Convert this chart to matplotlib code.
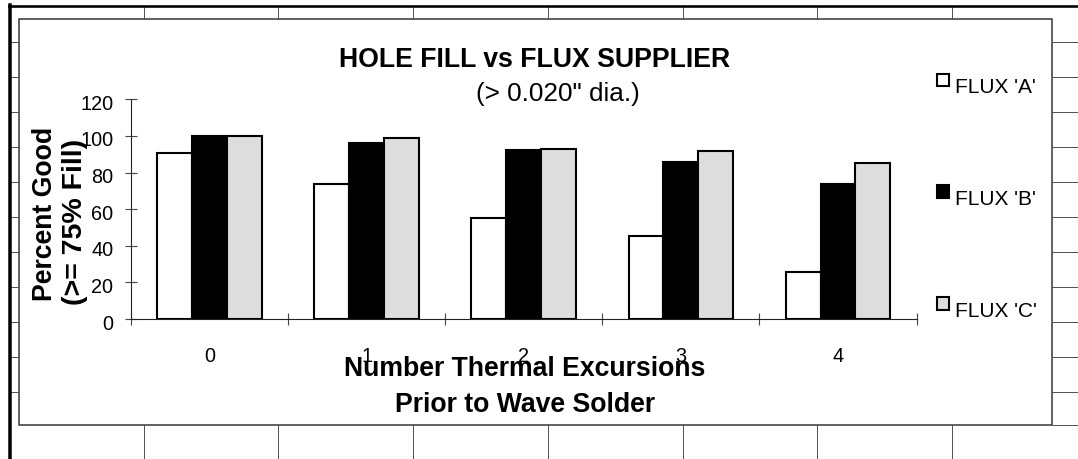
import matplotlib
matplotlib.use('Agg')
import matplotlib.pyplot as plt
import numpy as np
import matplotlib.transforms as mtransforms
from matplotlib.patches import Rectangle
from matplotlib.lines import Line2D
from matplotlib.container import BarContainer
from matplotlib.legend_handler import HandlerPatch, update_from_first_child

plt.rcParams['font.family'] = ['Liberation Sans', 'DejaVu Sans']

# ---------------- data ----------------
categories = ['0', '1', '2', '3', '4']
flux_a = [90.5, 74, 55, 45.5, 25.5]
flux_b = [100, 96, 92.5, 86, 74]
flux_c = [100, 99, 93, 92, 85]
series_names = ["FLUX 'A'", "FLUX 'B'", "FLUX 'C'"]
y_ticks = [0, 20, 40, 60, 80, 100, 120]
title = 'HOLE FILL vs FLUX SUPPLIER'
subtitle = '(> 0.020" dia.)'
xlabel_lines = ['Number Thermal Excursions', 'Prior to Wave Solder']
ylabel_lines = ['Percent Good', '(>= 75% Fill)']

# ---------------- layout ----------------
W, H = 1078, 459
fig = plt.figure(figsize=(W / 100, H / 100), dpi=100)
fig.patch.set_facecolor('white')


def fx(px):
    return px / W


def fy(py):
    return 1 - py / H


# spreadsheet-like surroundings
grid_col = '#555555'
px_lw = 0.72
col_x = [143.5 + 134.75 * k for k in range(7)]
row_y = [41.7 + 35.0 * k for k in range(11)]
box_l, box_t, box_r, box_b = 18.5, 18.5, 1052, 424.5

fig.add_artist(Rectangle((fx(box_l), fy(box_b)), fx(box_r) - fx(box_l), fy(box_t) - fy(box_b),
                         transform=fig.transFigure, facecolor='white', edgecolor='#333333',
                         linewidth=1.5 * px_lw, zorder=-1))
for cx in col_x:
    fig.add_artist(Line2D([fx(cx)] * 2, [fy(6), fy(box_t)], transform=fig.transFigure,
                          color=grid_col, lw=px_lw))
    fig.add_artist(Line2D([fx(cx)] * 2, [fy(box_b), 0], transform=fig.transFigure,
                          color=grid_col, lw=px_lw))
for ry in row_y:
    fig.add_artist(Line2D([fx(10), fx(box_l)], [fy(ry)] * 2, transform=fig.transFigure,
                          color=grid_col, lw=px_lw))
    fig.add_artist(Line2D([fx(box_r), 1], [fy(ry)] * 2, transform=fig.transFigure,
                          color=grid_col, lw=px_lw))
fig.add_artist(Line2D([fx(box_r), 1], [fy(box_b)] * 2, transform=fig.transFigure,
                      color=grid_col, lw=px_lw))
fig.add_artist(Line2D([fx(8.5), 1], [fy(6.3)] * 2, transform=fig.transFigure,
                      color='black', lw=2.6 * px_lw))
fig.add_artist(Line2D([fx(10)] * 2, [fy(5), 0], transform=fig.transFigure,
                      color='black', lw=3.5 * px_lw))

# ---------------- axes ----------------
ax = fig.add_axes([fx(131), fy(319), fx(916.5) - fx(131), fy(99.3) - fy(319)])
ax.set_facecolor('none')

x = np.arange(len(categories))
bw = 0.222
colors = ['white', 'black', '#dddddd']
containers = []
for i, vals in enumerate([flux_a, flux_b, flux_c]):
    c = ax.bar(x + (i - 1) * bw, vals, width=bw, color=colors[i], edgecolor='black',
               linewidth=1.5, label=series_names[i], zorder=2)
    containers.append(c)

ax.set_xlim(-0.5, len(categories) - 0.5)
ax.set_ylim(0, 120)
for s in ['top', 'right']:
    ax.spines[s].set_visible(False)
for s in ['left', 'bottom']:
    ax.spines[s].set_color('#222222')
    ax.spines[s].set_linewidth(0.8)
    ax.spines[s].set_zorder(3)

ax.set_yticks(y_ticks)
ax.tick_params(axis='y', direction='inout', length=8, width=0.8, color='#444444',
               pad=8.7, labelsize=14.3)
off = mtransforms.ScaledTranslation(0, -3 / 100, fig.dpi_scale_trans)
for lbl in ax.get_yticklabels():
    lbl.set_transform(lbl.get_transform() + off)

ax.set_xticks(np.arange(-0.5, len(categories), 1.0))
ax.set_xticklabels([])
ax.set_xticks(x, labels=categories, minor=True)
ax.tick_params(axis='x', which='major', direction='inout', length=8.5, width=0.8,
               color='#444444')
ax.tick_params(axis='x', which='minor', length=0, pad=20, labelsize=14.3)

# ---------------- texts ----------------
fig.text(fx(535), fy(67), title, ha='center', va='baseline', fontsize=19.2, fontweight='bold')
fig.text(fx(557.5), fy(100.7), subtitle, ha='center', va='baseline', fontsize=18.8)
fig.text(fx(525), fy(376), xlabel_lines[0], ha='center', va='baseline', fontsize=19.2,
         fontweight='bold')
fig.text(fx(525.5), fy(412), xlabel_lines[1], ha='center', va='baseline', fontsize=19.2,
         fontweight='bold')
fig.text(fx(51.7), fy(213.5), ylabel_lines[0], ha='center', va='baseline', rotation=90,
         rotation_mode='anchor', fontsize=19.2, fontweight='bold')
fig.text(fx(81.7), fy(222), ylabel_lines[1], ha='center', va='baseline', rotation=90,
         rotation_mode='anchor', fontsize=20.5, fontweight='bold')


# ---------------- legend ----------------
def raised(legend, orig_handle, xdescent, ydescent, width, height, fontsize):
    return Rectangle((-xdescent, -ydescent + 0.27 * fontsize), width, height)


handler = HandlerPatch(patch_func=raised, update_func=update_from_first_child)
ax.legend(containers, series_names, handler_map={BarContainer: handler},
          loc='upper left', bbox_to_anchor=(fx(936.7), fy(78)), bbox_transform=fig.transFigure,
          frameon=False, fontsize=15, borderpad=0, borderaxespad=0,
          handlelength=0.576, handleheight=0.576, handletextpad=0.32, labelspacing=4.46)

fig.savefig('out.png', dpi=100, facecolor='white')
